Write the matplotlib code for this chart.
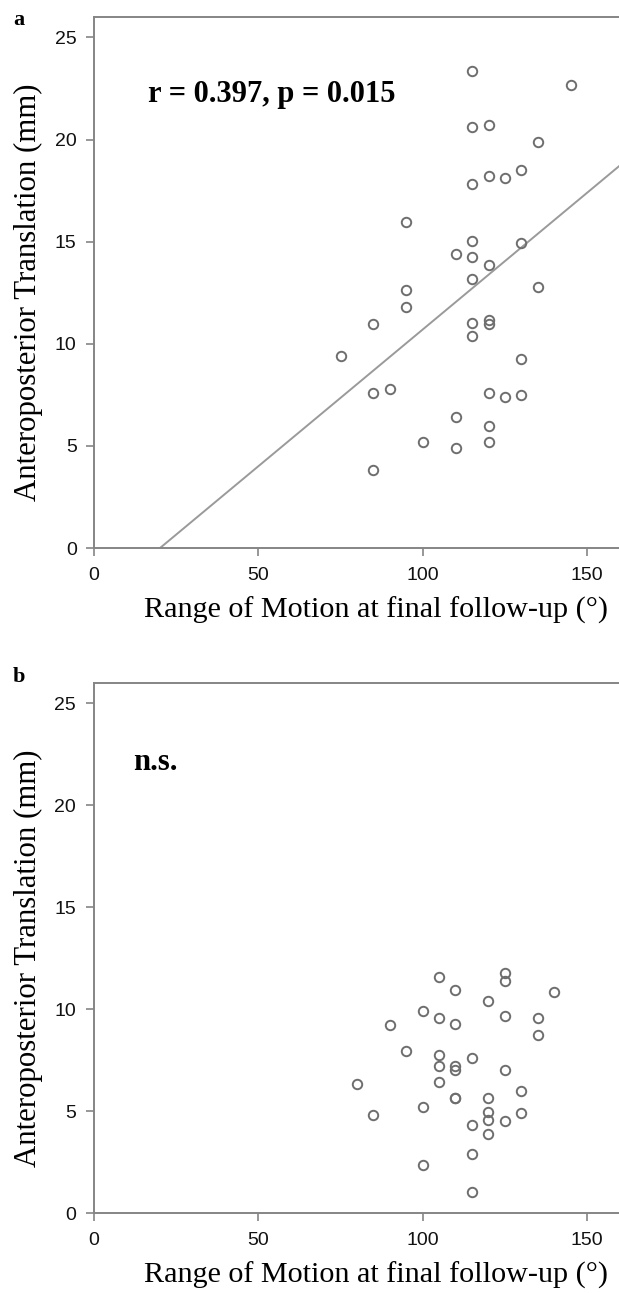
import numpy as np
import matplotlib
matplotlib.use("Agg")
import matplotlib.pyplot as plt

# panel a: ROM vs AP translation (with fit line)
rom_a = [115, 145, 115, 120, 135, 115, 120, 125, 130, 95, 115, 110, 115, 120,
         130, 115, 135, 95, 95, 85, 115, 120, 120, 115, 75, 130, 85, 90, 120,
         125, 130, 110, 120, 100, 110, 120, 85]
trans_a = [23.35, 22.67, 20.6, 20.7, 19.9, 17.8, 18.2, 18.1, 18.5, 15.95, 15.05,
           14.4, 14.25, 13.85, 14.95, 13.15, 12.8, 12.65, 11.8, 10.95, 11.0,
           10.95, 11.15, 10.4, 9.4, 9.25, 7.6, 7.8, 7.6, 7.4, 7.5, 6.4, 5.95,
           5.2, 4.9, 5.2, 3.8]
fit_slope = 0.1339
fit_intercept = -2.69

# panel b: not significant
rom_b = [105, 125, 125, 110, 140, 120, 100, 105, 125, 135, 110, 90, 135, 95,
         105, 115, 105, 110, 110, 125, 105, 80, 130, 110, 110, 120, 100, 120,
         130, 85, 120, 125, 115, 120, 115, 100, 115]
trans_b = [11.6, 11.75, 11.4, 10.95, 10.85, 10.4, 9.9, 9.55, 9.65, 9.55, 9.25,
           9.2, 8.75, 7.95, 7.75, 7.6, 7.2, 7.2, 7.0, 7.0, 6.45, 6.35, 6.0,
           5.65, 5.62, 5.65, 5.2, 4.95, 4.9, 4.8, 4.55, 4.5, 4.3, 3.9, 2.9,
           2.35, 1.05]

xticks = [0, 50, 100, 150]
yticks = [0, 5, 10, 15, 20, 25]
xlabel = "Range of Motion at final follow-up (°)"
ylabel = "Anteroposterior Translation (mm)"

SERIF = ["Liberation Serif", "DejaVu Serif"]
SANS = ["Liberation Sans", "DejaVu Sans"]
GRAY = "#858585"

W, H = 619, 1293
fig = plt.figure(figsize=(W / 100, H / 100), dpi=100)


def px_box(left, top, right, bottom):
    return [left / W, 1 - bottom / H, (right - left) / W, (bottom - top) / H]


def style_axes(ax):
    ax.set_xlim(0, 160)
    ax.set_ylim(0, 26)
    ax.set_xticks(xticks)
    ax.set_yticks(yticks)
    ax.spines["right"].set_visible(False)
    for s in ["left", "bottom", "top"]:
        ax.spines[s].set_color(GRAY)
        ax.spines[s].set_linewidth(1.4)
    ax.tick_params(direction="out", length=5.5, width=1.2, color=GRAY,
                   labelsize=14, labelcolor="#111111")
    ax.tick_params(axis="x", pad=8)
    ax.tick_params(axis="y", pad=7)
    for lab in ax.get_xticklabels() + ax.get_yticklabels():
        lab.set_family(SANS)


def scatter(ax, x, y):
    ax.plot(x, y, "o", ms=6.8, mfc="none", mec="#6e6e6e", mew=1.4,
            linestyle="none", clip_on=False)


ax1 = fig.add_axes(px_box(94, 17, 620, 548))
style_axes(ax1)
xs = np.array([-fit_intercept / fit_slope, 170])
ax1.plot(xs, fit_slope * xs + fit_intercept, color="#9a9a9a", lw=1.4)
scatter(ax1, rom_a, trans_a)
ax1.text(16.4, 22.2, "r = 0.397, p = 0.015", family=SERIF, fontsize=22,
         fontweight="bold", va="center", ha="left")

ax2 = fig.add_axes(px_box(93.5, 683, 620, 1213))
style_axes(ax2)
scatter(ax2, rom_b, trans_b)
ax2.text(12, 22.1, "n.s.", family=SERIF, fontsize=22, fontweight="bold",
         va="center", ha="left")

# axis labels and panel letters
for top, bottom, letter, ly in [(17, 548, "a", 20), (683, 1213, "b", 677)]:
    fig.text(28 / W, 1 - (top + bottom + 20) / 2 / H, ylabel, family=SERIF,
             fontsize=22.2, rotation=90, ha="center", va="center")
    fig.text(376 / W, 1 - (bottom + 70) / H, xlabel, family=SERIF,
             fontsize=21.7, ha="center", va="baseline")
    fig.text(13 / W, 1 - ly / H, letter, family=SERIF, fontsize=16,
             fontweight="bold", ha="left", va="center")

fig.savefig("out.png", dpi=100)
